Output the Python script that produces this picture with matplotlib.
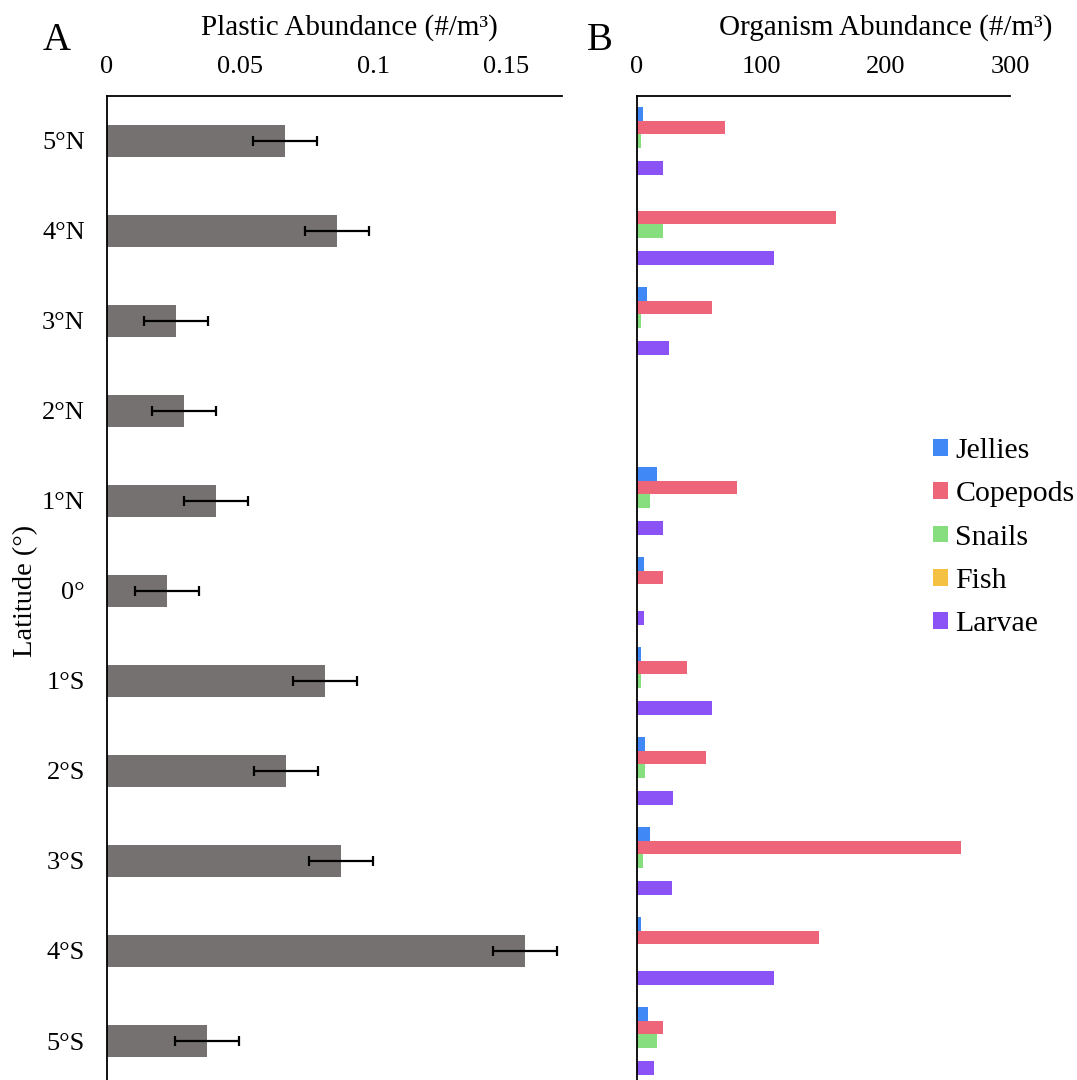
import numpy as np
import matplotlib.pyplot as plt

plt.rcParams['font.family'] = ['Liberation Serif', 'DejaVu Serif']

# latitudes, top to bottom
latitudes = ["5°N", "4°N", "3°N", "2°N", "1°N", "0°", "1°S", "2°S", "3°S", "4°S", "5°S"]

# panel A : plastic abundance (#/m3) and error
plastic = [0.067, 0.0865, 0.026, 0.029, 0.041, 0.0226, 0.082, 0.0673, 0.088, 0.157, 0.0376]
plastic_err = [0.012] * 11

# panel B : organism abundance (#/m3)
groups = ["Jellies", "Copepods", "Snails", "Fish", "Larvae"]
jellies = [5, 0, 8, 0, 16, 5.5, 3, 6.5, 10.5, 3, 8.5]
copepods = [70.5, 160, 60, 0, 80.5, 21, 40, 55.5, 260.5, 146, 21]
snails = [3, 21, 3, 0, 10.5, 0, 3, 6.5, 5, 0, 16]
fish = [0, 0, 0, 0, 0, 0, 0, 0, 0, 0, 0]
larvae = [21, 110.5, 25.5, 0, 21, 5.5, 60, 29, 28, 110, 14]
colors = ["#3f88f5", "#ee6479", "#86de7e", "#f5c143", "#8b52f5"]

y = np.arange(len(latitudes))

fig = plt.figure(figsize=(10.77, 10.80), dpi=100)

# ---- A ----
axA = fig.add_axes([0.0994, -0.00556, 0.4225, 0.9167])
axA.barh(y, plastic, height=0.35, color="#767171", xerr=plastic_err,
         error_kw=dict(ecolor="black", elinewidth=1.6, capsize=3.5, capthick=1.6))
axA.set_xlim(0, 0.171)
axA.set_ylim(10.5, -0.5)
axA.set_yticks(y)
axA.set_yticklabels(latitudes)
axA.set_xticks([0, 0.05, 0.1, 0.15])
axA.set_xticklabels(["0", "0.05", "0.1", "0.15"])
axA.xaxis.tick_top()
axA.xaxis.set_label_position("top")
axA.tick_params(axis="y", length=0, pad=16, labelsize=19)
axA.tick_params(axis="x", length=0, pad=13, labelsize=19)
axA.set_xlabel("Plastic Abundance (#/m³)", fontsize=21)
axA.xaxis.set_label_coords(0.532, 1.062)
axA.set_ylabel("Latitude (°)", fontsize=20.5)
axA.yaxis.set_label_coords(-0.152, 0.5)
for s in ["right", "bottom"]:
    axA.spines[s].set_visible(False)
for s in ["left", "top"]:
    axA.spines[s].set_linewidth(1.3)

# ---- B ----
axB = fig.add_axes([0.5915, -0.00556, 0.3463, 0.9167])
h = 0.15
series = [jellies, copepods, snails, fish, larvae]
for k, (name, vals) in enumerate(zip(groups, series)):
    axB.barh(y + (k - 2) * h, vals, height=h, color=colors[k], label=name)
axB.set_xlim(0, 300)
axB.set_ylim(10.5, -0.5)
axB.set_yticks([])
axB.set_xticks([0, 100, 200, 300])
axB.xaxis.tick_top()
axB.xaxis.set_label_position("top")
axB.tick_params(axis="x", length=0, pad=13, labelsize=19)
axB.set_xlabel("Organism Abundance (#/m³)", fontsize=21)
axB.xaxis.set_label_coords(0.668, 1.062)
for s in ["right", "bottom"]:
    axB.spines[s].set_visible(False)
for s in ["left", "top"]:
    axB.spines[s].set_linewidth(1.3)

fig.legend(loc="upper left", bbox_to_anchor=(933 / 1077, 1 - 438 / 1080),
           frameon=False, fontsize=21.5, handlelength=0.5, handleheight=0.48,
           handletextpad=0.25, labelspacing=0.58, borderpad=0, borderaxespad=0)

fig.text(57 / 1077, 1 - 41 / 1080, "A", fontsize=28, ha="center", va="center")
fig.text(600 / 1077, 1 - 41 / 1080, "B", fontsize=28, ha="center", va="center")

fig.savefig("out.png", dpi=100)
